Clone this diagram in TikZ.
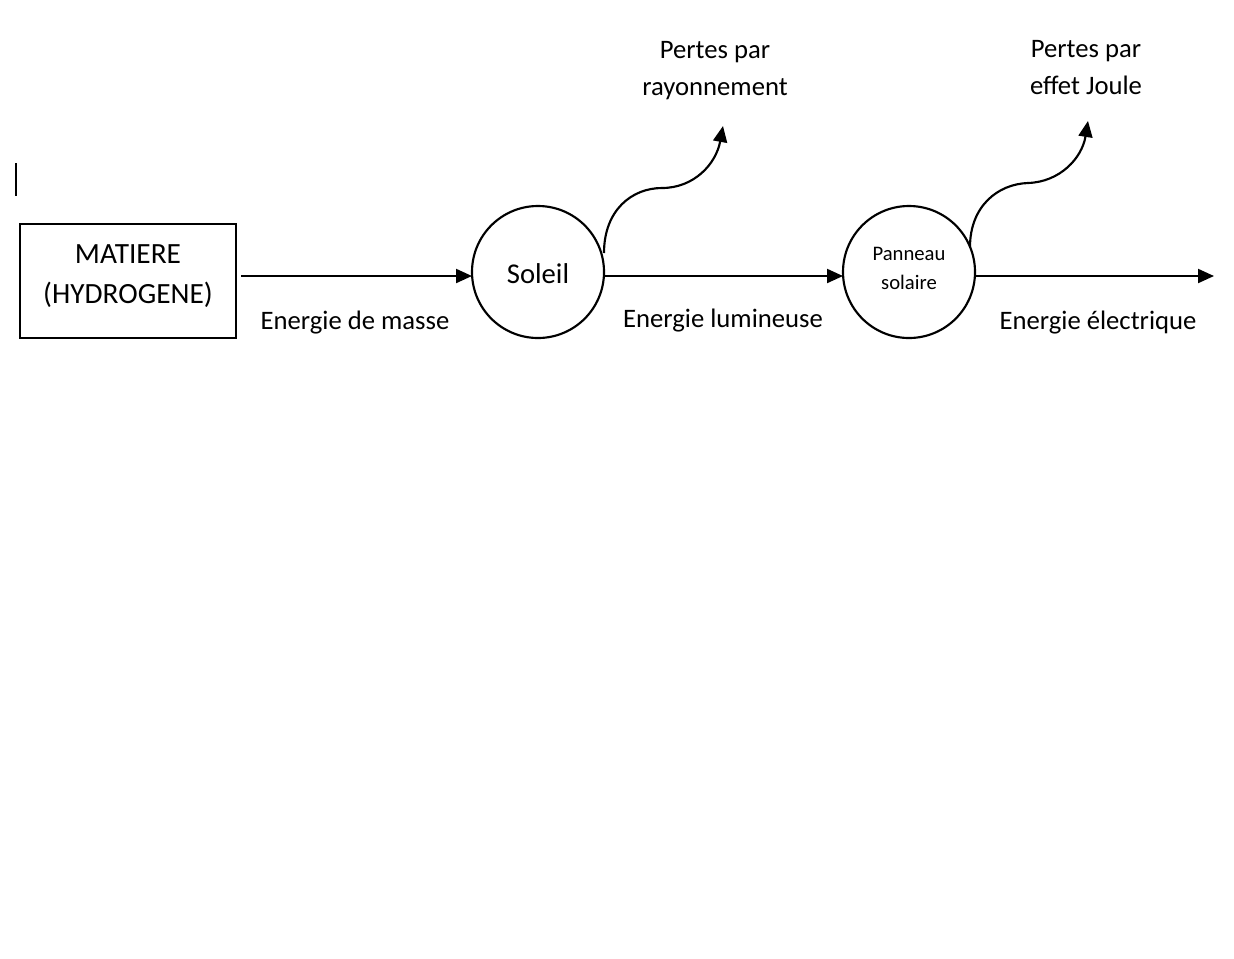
\documentclass[tikz,border=0pt]{standalone}
\usepackage{fontspec}
\setmainfont{Carlito}
\usetikzlibrary{arrows.meta}
\begin{document}
\begin{tikzpicture}[x=0.75pt,y=-0.75pt,
  line width=1.6pt,
  flow/.style={-{Triangle[length=12pt,width=10.5pt]}},
  lbl/.style={font=\fontsize{20}{27.75}\selectfont, inner sep=0pt, align=center},
  circ/.style={draw, circle, minimum size=99pt, inner sep=0pt},
]
\useasboundingbox[fill=white] (0,0) rectangle (1234,958);
% text cursor mark
\draw[line width=1.2pt] (16,163) coordinate (c1) -- (16,196) coordinate (c2);
% nodes
\node[draw, minimum width=162pt, minimum height=85.5pt, inner sep=0pt] (mat) at (128,281) {};
\node[inner sep=0pt, align=center, font=\fontsize{22}{30}\selectfont] (matt) at (128,276.5) {MATIERE\\(HYDROGENE)};
\node[circ] (sol) at (538,272) {};
\node[inner sep=0pt, font=\fontsize{21.5}{26}\selectfont] (solt) at (538,274) {Soleil};
\node[circ] (pan) at (909,272) {};
\node[inner sep=0pt, align=center, font=\fontsize{15.5}{21.75}\selectfont] (pant) at (909,268.5) {Panneau\\solaire};
% arrows
\coordinate (a1s) at (241,276);
\coordinate (a1e) at (472,276);
\coordinate (a2s) at (604,276);
\coordinate (a2e) at (843,276);
\coordinate (a3s) at (975,276);
\coordinate (a3e) at (1214,276);
\draw[flow] (a1s) -- (a1e);
\draw[flow] (a2s) -- (a2e);
\draw[flow] (a3s) -- (a3e);
% loss curves
\coordinate (p1s) at (604,253);
\coordinate (p1e) at (723,126);
\coordinate (p2s) at (970,247);
\coordinate (p2e) at (1088,121);
\draw[flow] (p1s) .. controls (604,210) and (632,188) .. (662,188)
  .. controls (694,188) and (716,164) .. (p1e);
\draw[flow] (p2s) .. controls (970,206) and (998,184) .. (1028,183)
  .. controls (1060,182) and (1082,158) .. (p2e);
% labels
\node[lbl] (l1) at (355,323) {Energie de masse};
\node[lbl] (l2) at (723,321) {Energie lumineuse};
\node[lbl] (l3) at (1098,323) {Energie électrique};
\node[lbl] (t1) at (715,70.5) {Pertes par\\rayonnement};
\node[lbl] (t2) at (1086,68) {Pertes par\\effet Joule};
\end{tikzpicture}
\end{document}
